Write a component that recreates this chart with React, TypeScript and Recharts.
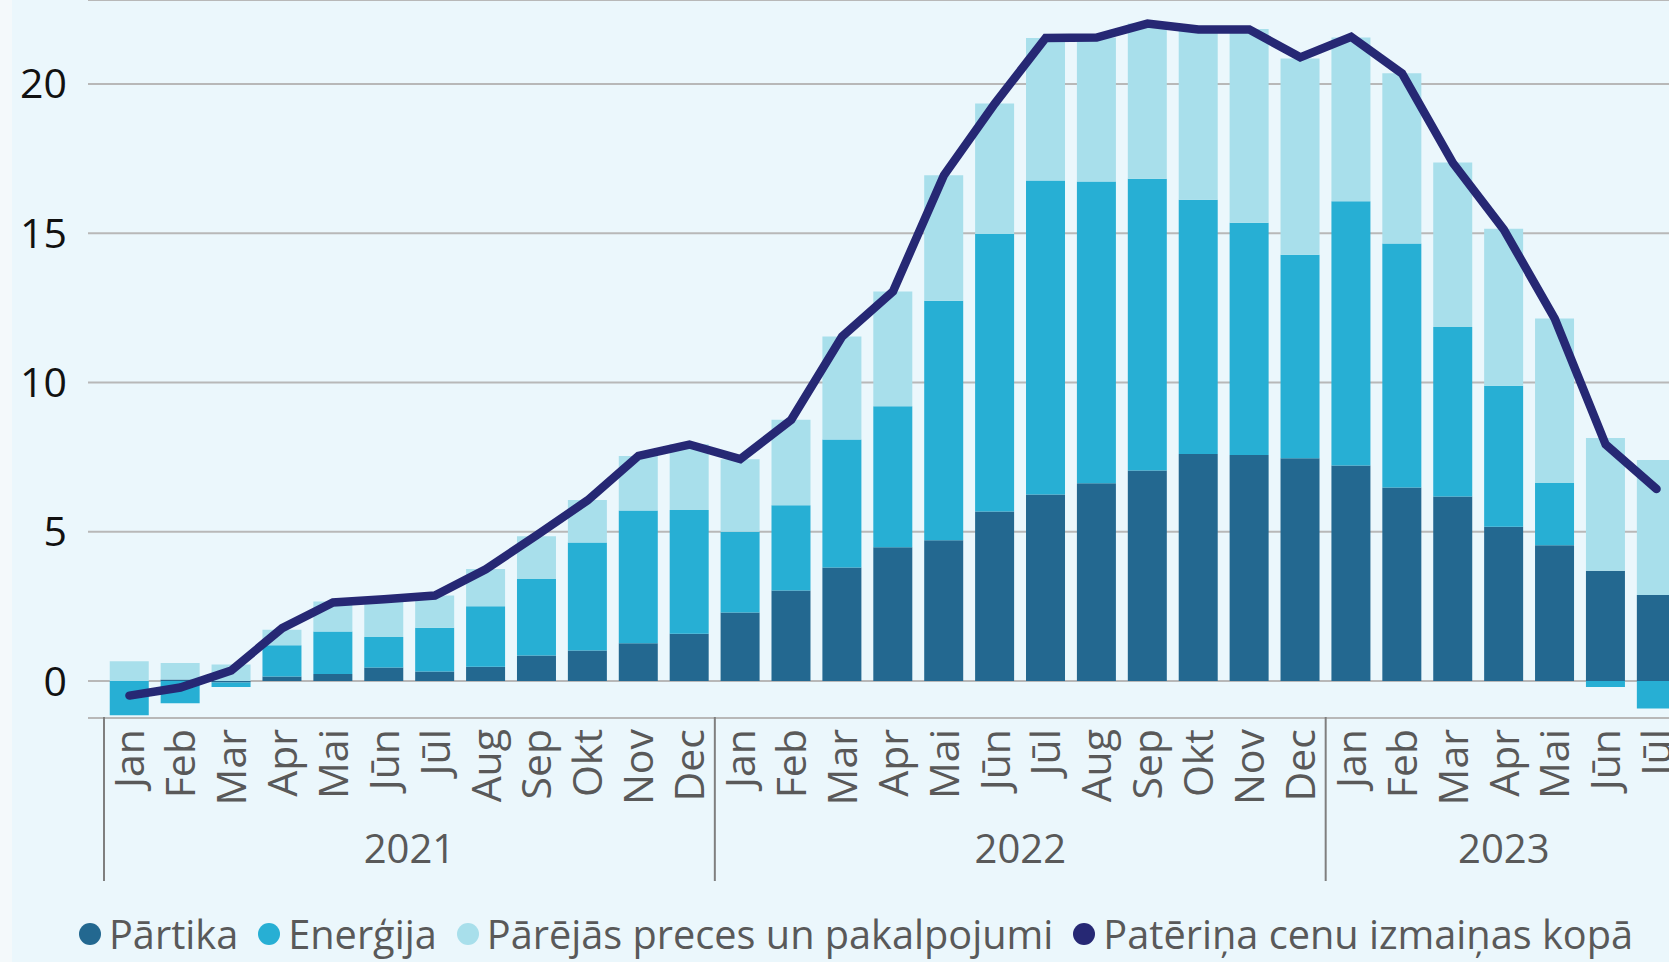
import React from 'react';
import { ComposedChart, Bar, Line, XAxis, YAxis, CartesianGrid, Legend } from 'recharts';

// months Jan 2021 .. Jūl 2023
const categories = [
  'Jan', 'Feb', 'Mar', 'Apr', 'Mai', 'Jūn', 'Jūl', 'Aug', 'Sep', 'Okt', 'Nov', 'Dec',
  'Jan', 'Feb', 'Mar', 'Apr', 'Mai', 'Jūn', 'Jūl', 'Aug', 'Sep', 'Okt', 'Nov', 'Dec',
  'Jan', 'Feb', 'Mar', 'Apr', 'Mai', 'Jūn', 'Jūl',
];

const yearGroups = [
  { label: '2021', start: 0, end: 11 },
  { label: '2022', start: 12, end: 23 },
  { label: '2023', start: 24, end: 30 },
];

const partika = [
  0, 0.05, -0.05, 0.15, 0.23, 0.45, 0.32, 0.48, 0.85, 1.02, 1.26, 1.58,
  2.29, 3.03, 3.8, 4.48, 4.71, 5.68, 6.25, 6.62, 7.05, 7.6, 7.57, 7.46,
  7.22, 6.48, 6.18, 5.17, 4.55, 3.69, 2.88,
];

const energija = [
  -1.15, -0.75, -0.15, 1.05, 1.43, 1.02, 1.46, 2.02, 2.57, 3.62, 4.45, 4.15,
  2.71, 2.86, 4.29, 4.72, 8.03, 9.29, 10.51, 10.11, 9.77, 8.52, 7.78, 6.82,
  8.85, 8.17, 5.68, 4.72, 2.08, -0.2, -0.92,
];

const parejas = [
  0.66, 0.55, 0.55, 0.52, 1.0, 1.28, 1.08, 1.25, 1.43, 1.42, 1.83, 2.2,
  2.43, 2.86, 3.45, 3.85, 4.2, 4.37, 4.78, 4.82, 5.2, 5.69, 6.49, 6.57,
  5.48, 5.71, 5.51, 5.26, 5.51, 4.45, 4.52,
];

const kopa = [
  -0.49, -0.22, 0.35, 1.77, 2.63, 2.74, 2.86, 3.74, 4.88, 6.05, 7.54, 7.92,
  7.43, 8.75, 11.54, 13.05, 16.94, 19.34, 21.54, 21.55, 22.02, 21.82, 21.82, 20.89,
  21.58, 20.35, 17.35, 15.12, 12.14, 7.92, 6.43,
];

const yTicks = [0, 5, 10, 15, 20];

const legendItems = [
  { name: 'Pārtika', color: '#236890' },
  { name: 'Enerģija', color: '#27AFD4' },
  { name: 'Pārējās preces un pakalpojumi', color: '#A8DFEB' },
  { name: 'Patēriņa cenu izmaiņas kopā', color: '#262874' },
];

const data = categories.map((month, i) => ({
  month,
  partika: partika[i],
  energija: energija[i],
  parejas: parejas[i],
  kopa: kopa[i],
}));

const FONT = '"Open Sans", sans-serif';
const GREY_TEXT = '#595959';

function MonthTick(props: any) {
  const { x, y, payload } = props;
  const index = props.index ?? payload.index;
  const half = payload.offset ?? 25.5;
  const group = yearGroups.find((g) => g.start === index);
  const labelGroup = yearGroups.find((g) => Math.floor((g.start + g.end) / 2) === index);

  return (
    <g>
      <text
        x={x}
        y={y}
        transform={`rotate(-90 ${x} ${y})`}
        textAnchor="end"
        dy="0.36em"
        fill={GREY_TEXT}
        fontSize={41}
        fontFamily={FONT}
      >
        {payload.value}
      </text>
      {group && (
        <line x1={x - half} x2={x - half} y1={y - 12} y2={y + 152} stroke="#7F7F7F" strokeWidth={2} />
      )}
      {labelGroup && (
        <text
          x={x + ((labelGroup.start + labelGroup.end) / 2 - index) * 2 * half}
          y={y + 134}
          textAnchor="middle"
          fill={GREY_TEXT}
          fontSize={40}
          fontFamily={FONT}
        >
          {labelGroup.label}
        </text>
      )}
    </g>
  );
}

function LegendContent() {
  return (
    <div
      style={{
        display: 'flex',
        alignItems: 'center',
        height: 56,
        paddingLeft: 79,
        fontFamily: FONT,
        fontSize: 39.7,
        color: GREY_TEXT,
        whiteSpace: 'nowrap',
      }}
    >
      {legendItems.map((item) => (
        <div key={item.name} style={{ display: 'flex', alignItems: 'center', marginRight: 20 }}>
          <span
            style={{
              display: 'inline-block',
              width: 22,
              height: 22,
              borderRadius: '50%',
              background: item.color,
              marginRight: 8,
            }}
          />
          <span>{item.name}</span>
        </div>
      ))}
    </div>
  );
}

export default function App() {
  return (
    <div
      style={{
        position: 'absolute',
        left: 0,
        top: 0,
        width: 1669,
        height: 962,
        overflow: 'hidden',
        background: 'linear-gradient(to right, #F4F9FB 0px, #F4F9FB 12px, #EBF7FC 12px)',
      }}
    >
      <ComposedChart
        width={1698}
        height={962}
        data={data}
        stackOffset="sign"
        barCategoryGap="11.3%"
        margin={{ top: 0, right: 0, bottom: 0, left: 0 }}
      >
        <CartesianGrid vertical={false} stroke="#B8B8B8" strokeWidth={2} />
        <XAxis
          dataKey="month"
          interval={0}
          tickLine={false}
          axisLine={false}
          tickSize={0}
          tickMargin={11}
          height={188}
          padding={{ left: 16, right: 16 }}
          tick={(p: any) => <MonthTick {...p} />}
        />
        <YAxis
          type="number"
          domain={[-1.24, 22.81]}
          ticks={yTicks}
          width={88}
          tickLine={false}
          axisLine={false}
          tickSize={0}
          tickMargin={21}
          tick={{ fill: '#111111', fontSize: 41, fontFamily: FONT }}
        />
        <Bar dataKey="partika" name="Pārtika" stackId="a" fill="#236890" isAnimationActive={false} />
        <Bar dataKey="energija" name="Enerģija" stackId="a" fill="#27AFD4" isAnimationActive={false} />
        <Bar dataKey="parejas" name="Pārējās preces un pakalpojumi" stackId="a" fill="#A8DFEB" isAnimationActive={false} />
        <Line
          type="linear"
          dataKey="kopa"
          name="Patēriņa cenu izmaiņas kopā"
          stroke="#262874"
          strokeWidth={8.5}
          strokeLinecap="round"
          strokeLinejoin="miter"
          dot={false}
          activeDot={false}
          isAnimationActive={false}
        />
        <Legend verticalAlign="bottom" align="left" height={56} content={() => <LegendContent />} />
      </ComposedChart>
    </div>
  );
}
